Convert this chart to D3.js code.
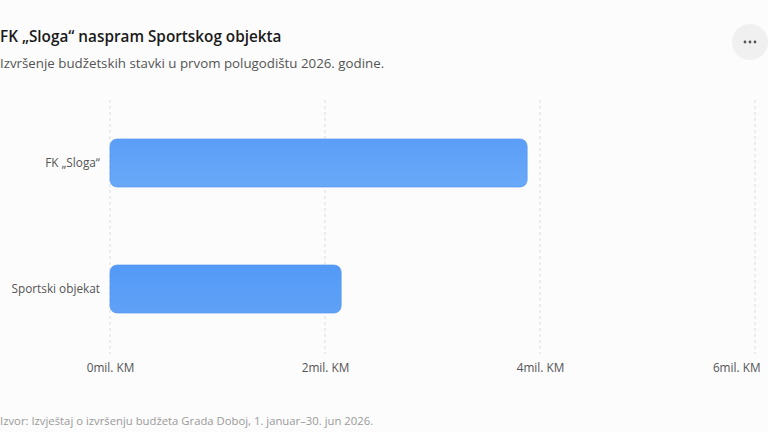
<!DOCTYPE html>
<html>
<head>
<meta charset="utf-8">
<script src="https://cdn.jsdelivr.net/npm/d3@7"></script>
<style>
  body { margin: 0; background: #fcfcfc; font-family: "Segoe UI", "Open Sans", "Noto Sans", sans-serif; }
  svg { display: block; }
</style>
</head>
<body>
<div id="chart"></div>
<script>
const categories = ['FK \u201eSloga\u201c', 'Sportski objekat'];
const values = [3.88, 2.15]; // mil. KM
const xTicks = [0, 2, 4, 6];
const titleText = 'FK \u201eSloga\u201c naspram Sportskog objekta';
const subtitleText = 'Izvršenje budžetskih stavki u prvom polugodištu 2026. godine.';
const sourceText = 'Izvor: Izvještaj o izvršenju budžeta Grada Doboj, 1. januar\u201330. jun 2026.';

const W = 768;
const H = 432;
const margin = { t: 100, r: 13, b: 80, l: 110 };

const svg = d3.select('#chart').append('svg')
  .attr('width', W)
  .attr('height', H);

svg.append('rect').attr('width', W).attr('height', H).attr('fill', '#fcfcfc');

const defs = svg.append('defs');
const grad = defs.append('linearGradient')
  .attr('id', 'barGrad')
  .attr('x1', 0).attr('y1', 0).attr('x2', 0).attr('y2', 1);
grad.append('stop').attr('offset', '0%').attr('stop-color', '#5b9ef7');
grad.append('stop').attr('offset', '100%').attr('stop-color', '#6aa9f8');
const grad2 = defs.append('linearGradient')
  .attr('id', 'barGrad2')
  .attr('x1', 0).attr('y1', 0).attr('x2', 0).attr('y2', 1);
grad2.append('stop').attr('offset', '0%').attr('stop-color', '#529af6');
grad2.append('stop').attr('offset', '100%').attr('stop-color', '#60a1f7');

// header
svg.append('text')
  .attr('x', 0).attr('y', 42)
  .attr('font-size', 15.3)
  .attr('font-weight', 600)
  .attr('fill', '#1a1a1a')
  .text(titleText);

svg.append('text')
  .attr('x', 0).attr('y', 68)
  .attr('font-size', 13.3)
  .attr('fill', '#555')
  .text(subtitleText);

// menu button
const btn = svg.append('g').attr('transform', 'translate(750, 42)');
btn.append('circle').attr('r', 18).attr('fill', '#f0f0f0');
btn.selectAll('circle.dot')
  .data([-5, 0, 5])
  .enter().append('circle')
  .attr('class', 'dot')
  .attr('cx', d => d)
  .attr('r', 1.4)
  .attr('fill', '#555');

// scales
const x = d3.scaleLinear()
  .domain([0, 6])
  .range([margin.l, 755]);

const y = d3.scaleBand()
  .domain(categories)
  .range([margin.t, H - margin.b])
  .paddingInner(0.62)
  .paddingOuter(0.31);

// grid
svg.append('g')
  .selectAll('line')
  .data(xTicks)
  .enter().append('line')
  .attr('x1', d => x(d))
  .attr('x2', d => x(d))
  .attr('y1', margin.t)
  .attr('y2', H - margin.b + 2)
  .attr('stroke', '#e6e6e6')
  .attr('stroke-width', 1.5)
  .attr('stroke-dasharray', '3,3');

// x axis
const xAxis = d3.axisBottom(x)
  .tickValues(xTicks)
  .tickSize(0)
  .tickPadding(0)
  .tickFormat(d => `${d}mil. KM`);

const gx = svg.append('g')
  .attr('transform', `translate(0, ${H - margin.b + 12})`)
  .call(xAxis);
gx.select('.domain').remove();
gx.selectAll('text')
  .attr('font-family', '"Segoe UI", "Open Sans", "Noto Sans", sans-serif')
  .attr('font-size', 11.8)
  .attr('fill', '#555');
// keep the last label inside the frame
gx.selectAll('.tick').filter(d => d === xTicks[xTicks.length - 1]).select('text')
  .attr('text-anchor', 'end')
  .attr('x', 5);

// y axis
const yAxis = d3.axisLeft(y).tickSize(0).tickPadding(10);
const gy = svg.append('g')
  .attr('transform', `translate(${margin.l}, 0)`)
  .call(yAxis);
gy.select('.domain').remove();
gy.selectAll('text')
  .attr('font-family', '"Segoe UI", "Open Sans", "Noto Sans", sans-serif')
  .attr('font-size', 11.8)
  .attr('fill', '#555');

// bars
svg.append('g')
  .selectAll('rect')
  .data(categories)
  .enter().append('rect')
  .attr('x', x(0))
  .attr('y', d => y(d))
  .attr('width', (d, i) => x(values[i]) - x(0))
  .attr('height', y.bandwidth())
  .attr('rx', 7)
  .attr('fill', (d, i) => i === 0 ? 'url(#barGrad)' : 'url(#barGrad2)')
  .attr('stroke', '#5897f2')
  .attr('stroke-width', 0.8);

// source
svg.append('text')
  .attr('x', 0).attr('y', 425)
  .attr('font-size', 11.3)
  .attr('fill', '#9a9a9a')
  .text(sourceText);
</script>
</body>
</html>
